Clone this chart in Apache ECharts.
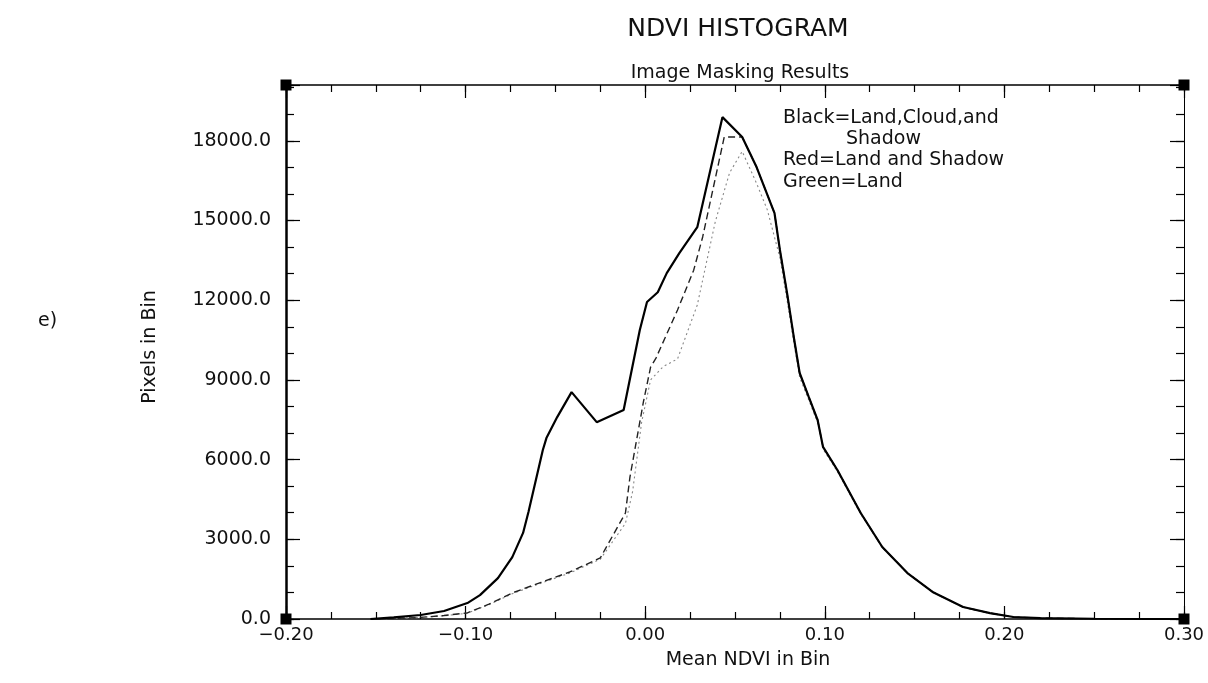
<!DOCTYPE html>
<html><head><meta charset="utf-8">
<script src="https://cdn.jsdelivr.net/npm/echarts@6/dist/echarts.min.js"></script>
<style>html,body{margin:0;padding:0;background:#fff}#c{width:1208px;height:683px}</style>
</head><body><div id="c"></div>
<script>
// axis ranges and tick steps
const xMin = -0.2, xMax = 0.3, yMin = 0, yMax = 20100;
const xMajor = 0.1, xMinor = 0.025, yMajor = 3000, yMinor = 1000;

// Black = Land, Cloud, and Shadow
const ndviBlack = [-0.153,-0.14,-0.125,-0.112,-0.099,-0.092,-0.082,-0.074,-0.068,-0.065,-0.057,-0.055,-0.049,-0.041,-0.027,-0.012,-0.003,0.001,0.007,0.012,0.019,0.029,0.043,0.054,0.062,0.072,0.075,0.079,0.083,0.086,0.091,0.096,0.099,0.107,0.120,0.132,0.146,0.160,0.177,0.192,0.205,0.22,0.25,0.30];
const black = [0,60,150,300,600,900,1540,2330,3240,4030,6360,6810,7600,8540,7410,7870,10880,11930,12300,13020,13770,14750,18890,18140,17010,15280,13890,12260,10500,9260,8370,7490,6480,5610,3990,2710,1730,1020,450,220,75,30,10,0];

// Red = Land and Shadow
const ndviRed = [-0.15,-0.14,-0.125,-0.112,-0.099,-0.087,-0.074,-0.058,-0.042,-0.025,-0.011,-0.0085,-0.001,0.003,0.006,0.018,0.027,0.032,0.038,0.044,0.054,0.062,0.072,0.075,0.079,0.083,0.086,0.091,0.096,0.099,0.107,0.120,0.132,0.146,0.160,0.177,0.192,0.205,0.22,0.25,0.30];
const red = [0,20,60,130,230,560,980,1380,1770,2300,3990,5340,8170,9480,9820,11630,13130,14380,16260,18140,18140,17010,15280,13890,12260,10500,9260,8370,7490,6480,5610,3990,2710,1730,1020,450,220,75,30,10,0];

// Green = Land
const ndviGreen = [-0.15,-0.14,-0.125,-0.112,-0.099,-0.087,-0.074,-0.058,-0.042,-0.025,-0.011,-0.007,-0.002,0.003,0.010,0.018,0.029,0.032,0.039,0.047,0.054,0.062,0.068,0.075,0.079,0.083,0.086,0.091,0.096,0.099,0.107,0.120,0.132,0.146,0.160,0.177,0.192,0.205,0.22,0.25,0.30];
const green = [0,20,60,120,220,540,950,1350,1730,2250,3600,4800,7400,9000,9500,9790,11820,12760,14950,16800,17600,16400,15400,13600,12000,10300,9100,8250,7400,6400,5550,3950,2690,1720,1010,445,215,70,25,8,0];

const legendLines = ['Black=Land,Cloud,and', 'Shadow', 'Red=Land and Shadow', 'Green=Land'];

const zip = (xs, ys) => xs.map((x, i) => [x, ys[i]]);
const FONT = 'DejaVu Sans';
const INK = '#111';

function xAx(pos, interval, len, showLine, lineW, labels) {
  return {
    type: 'value', position: pos, min: xMin, max: xMax, interval: interval,
    axisLine: { show: showLine, onZero: false, lineStyle: { color: '#000', width: lineW } },
    axisTick: { show: true, inside: true, length: len, lineStyle: { color: '#000', width: 1.2 } },
    axisLabel: labels ? {
      show: true, margin: 7, fontFamily: FONT, fontSize: 18, color: INK,
      formatter: v => { const r = Math.round(v * 100) / 100; return (r < 0 ? '\u2212' : '') + Math.abs(r).toFixed(2); }
    } : { show: false },
    splitLine: { show: false }
  };
}
function yAx(pos, interval, len, showLine, lineW, labels) {
  return {
    type: 'value', position: pos, min: yMin, max: yMax, interval: interval,
    axisLine: { show: showLine, onZero: false, lineStyle: { color: '#000', width: lineW } },
    axisTick: { show: true, inside: true, length: len, lineStyle: { color: '#000', width: 1.2 } },
    axisLabel: labels ? {
      show: true, margin: 15, fontFamily: FONT, fontSize: 19, color: INK,
      formatter: v => (v % yMajor === 0 ? v.toFixed(1) : '')
    } : { show: false },
    splitLine: { show: false }
  };
}

const xa0 = xAx('bottom', xMajor, 13, true, 1.5, true);
xa0.name = 'Mean NDVI in Bin';
xa0.nameLocation = 'middle';
xa0.nameGap = 32;
xa0.nameTextStyle = { fontFamily: FONT, fontSize: 19, color: INK, padding: [0, 0, 0, 26] };

const ya0 = yAx('left', yMajor, 14, true, 2.5, true);
ya0.name = 'Pixels in Bin';
ya0.nameLocation = 'middle';
ya0.nameGap = 126;
ya0.nameTextStyle = { fontFamily: FONT, fontSize: 19, color: INK, padding: [0, 0, 0, 10] };

const chart = echarts.init(document.getElementById('c'), null, { renderer: 'canvas' });
chart.setOption({
  animation: false,
  backgroundColor: '#fff',
  title: [
    { text: 'NDVI HISTOGRAM', left: 733, top: 12, textAlign: 'center',
      textStyle: { fontFamily: FONT, fontSize: 25, fontWeight: 'normal', color: INK } },
    { text: 'Image Masking Results', left: 735, top: 59, textAlign: 'center',
      textStyle: { fontFamily: FONT, fontSize: 19, fontWeight: 'normal', color: INK } }
  ],
  grid: { left: 286, right: 24, top: 85, bottom: 64, containLabel: false },
  xAxis: [
    xa0,
    xAx('bottom', xMinor, 7, false, 1, false),
    xAx('top', xMajor, 13, true, 1.5, false),
    xAx('top', xMinor, 7, false, 1, false)
  ],
  yAxis: [
    ya0,
    yAx('left', yMinor, 8, false, 1, false),
    yAx('right', yMajor, 14, true, 1, false),
    yAx('right', yMinor, 8, false, 1, false)
  ],
  graphic: [
    { type: 'text', left: 38, top: 312, style: { text: 'e)', font: '19px ' + FONT, fill: INK } },
    { type: 'text', left: 783, top: 109, style: { text: legendLines[0], font: '19px ' + FONT, fill: INK } },
    { type: 'text', left: 846, top: 130, style: { text: legendLines[1], font: '19px ' + FONT, fill: INK } },
    { type: 'text', left: 783, top: 151, style: { text: legendLines[2], font: '19px ' + FONT, fill: INK } },
    { type: 'text', left: 783, top: 173, style: { text: legendLines[3], font: '19px ' + FONT, fill: INK } }
  ],
  series: [
    { name: 'Green', type: 'line', xAxisIndex: 0, yAxisIndex: 0, data: zip(ndviGreen, green),
      symbol: 'none', lineStyle: { color: '#888', width: 1.1, type: [2, 3] }, z: 2 },
    { name: 'Red', type: 'line', xAxisIndex: 0, yAxisIndex: 0, data: zip(ndviRed, red),
      symbol: 'none', lineStyle: { color: '#222', width: 1.4, type: [7, 4] }, z: 3 },
    { name: 'Black', type: 'line', xAxisIndex: 0, yAxisIndex: 0, data: zip(ndviBlack, black),
      symbol: 'none', lineStyle: { color: '#000', width: 2.2 }, z: 4 },
    { name: 'corners', type: 'scatter', xAxisIndex: 0, yAxisIndex: 0, clip: false,
      data: [[xMin, yMin], [xMin, yMax], [xMax, yMin], [xMax, yMax]],
      symbol: 'rect', symbolSize: 11, itemStyle: { color: '#000', opacity: 1 }, z: 10 }
  ]
});
</script>
</body></html>
